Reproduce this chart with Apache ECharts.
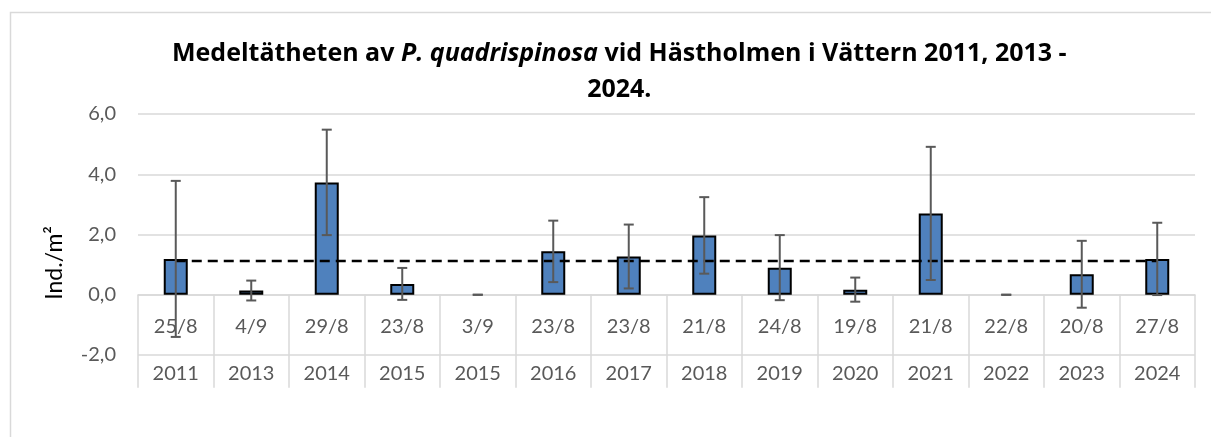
<!DOCTYPE html>
<html>
<head>
<meta charset="utf-8">
<script src="https://cdn.jsdelivr.net/npm/echarts@6/dist/echarts.min.js"></script>
<style>
  html, body { margin: 0; padding: 0; background: #fff; }
  #main { width: 1211px; height: 437px; }
</style>
</head>
<body>
<div id="main"></div>
<script>
// provtagningsdatum och år (två rader under x-axeln)
var dates = ['25/8', '4/9', '29/8', '23/8', '3/9', '23/8', '23/8', '21/8', '24/8', '19/8', '21/8', '22/8', '20/8', '27/8'];
var years = ['2011', '2013', '2014', '2015', '2015', '2016', '2017', '2018', '2019', '2020', '2021', '2022', '2023', '2024'];
// medeltäthet ind./m2 och felstaplar (+/-)
var density = [1.19, 0.14, 3.73, 0.36, 0, 1.44, 1.27, 1.97, 0.90, 0.17, 2.70, 0, 0.68, 1.19];
var errors = [2.59, 0.33, 1.75, 0.53, 0, 1.02, 1.06, 1.27, 1.08, 0.40, 2.21, 0, 1.11, 1.20];
// medelvärde för hela perioden (streckad linje)
var meanLine = [1.12, 1.12, 1.12, 1.12, 1.12, 1.12, 1.12, 1.12, 1.12, 1.12, 1.12, 1.12, 1.12, 1.12];
var yTicks = { min: -2, max: 6, step: 2 };

var FONT = 'Lato';
var GRID = '#d9d9d9';

var cats = dates.map(function (d, i) { return String(i); });

var barData = density.map(function (v) {
    // nollvärden ritas inte med ram
    return v === 0 ? { value: 0, itemStyle: { borderWidth: 0 } } : v;
});

var errData = density.map(function (v, i) {
    return [i, v - errors[i], v + errors[i]];
});

var myChart = echarts.init(document.getElementById('main'));
myChart.setOption({
    animation: false,
    backgroundColor: '#fff',
    title: {
        left: 167,
        top: 31,
        textAlign: 'left',
        text: '{b|Medeltätheten av }{bi|P. quadrispinosa}{b| vid Hästholmen i Vättern 2011, 2013 -}\n{c|2024.}',
        textStyle: {
            rich: {
                b: { fontFamily: 'Open Sans', fontWeight: 'bold', fontSize: 25, color: '#000', lineHeight: 36 },
                bi: { fontFamily: 'Open Sans', fontWeight: 'bold', fontStyle: 'italic', fontSize: 25, color: '#000', lineHeight: 36 },
                c: { fontFamily: 'Open Sans', fontWeight: 'bold', fontSize: 25, color: '#000', lineHeight: 36, align: 'center' }
            }
        }
    },
    graphic: [
        {
            type: 'rect',
            silent: true,
            shape: { x: 10.5, y: 12.5, width: 1300, height: 500 },
            style: { fill: 'none', stroke: GRID, lineWidth: 1.5 }
        },
        {
            type: 'text',
            left: 43,
            top: 226,
            rotation: Math.PI / 2,
            style: {
                text: 'Ind./m²',
                font: '23px Lato',
                fill: '#000'
            }
        }
    ],
    grid: {
        left: 138,
        right: 16,
        top: 114,
        bottom: 82,
        outerBoundsMode: 'none',
        containLabel: false
    },
    xAxis: {
        type: 'category',
        data: cats,
        boundaryGap: true,
        axisLine: { onZero: true, lineStyle: { color: GRID, width: 1.5 } },
        axisTick: { show: true, interval: 0, length: 93, lineStyle: { color: GRID, width: 1.5 } },
        axisLabel: {
            interval: 0,
            margin: -59,
            formatter: function (val, idx) {
                return '{d|' + dates[idx] + '}\n{y|' + years[idx] + '}';
            },
            rich: {
                d: { fontFamily: FONT, fontSize: 20, color: '#595959', lineHeight: 62 },
                y: { fontFamily: FONT, fontSize: 20, color: '#595959', lineHeight: 32 }
            }
        },
        splitLine: { show: false }
    },
    yAxis: {
        type: 'value',
        min: yTicks.min,
        max: yTicks.max,
        interval: yTicks.step,
        axisLine: { show: false },
        axisTick: { show: false },
        axisLabel: {
            margin: 22,
            fontFamily: FONT,
            fontSize: 20,
            color: '#595959',
            formatter: function (v) { return v.toFixed(1).replace('.', ','); }
        },
        splitLine: { lineStyle: { color: GRID, width: 1.5 } }
    },
    series: [
        {
            name: 'Medeltäthet',
            type: 'bar',
            barWidth: 24,
            z: 2,
            itemStyle: { color: '#4f81bd', borderColor: '#000', borderWidth: 2 },
            data: barData
        },
        {
            name: 'Medel',
            type: 'line',
            z: 3,
            symbol: 'none',
            lineStyle: { color: '#000', width: 2.5, type: [10, 6] },
            data: meanLine
        },
        {
            name: 'Fel',
            type: 'custom',
            z: 4,
            clip: false,
            encode: { x: 0, y: [1, 2] },
            renderItem: function (params, api) {
                var lo = api.coord([api.value(0), api.value(1)]);
                var hi = api.coord([api.value(0), api.value(2)]);
                var w = 5;
                var st = { stroke: '#595959', lineWidth: 2 };
                return {
                    type: 'group',
                    children: [
                        { type: 'line', shape: { x1: hi[0], y1: hi[1], x2: lo[0], y2: lo[1] }, style: st },
                        { type: 'line', shape: { x1: hi[0] - w, y1: hi[1], x2: hi[0] + w, y2: hi[1] }, style: st },
                        { type: 'line', shape: { x1: lo[0] - w, y1: lo[1], x2: lo[0] + w, y2: lo[1] }, style: st }
                    ]
                };
            },
            data: errData
        }
    ]
});
</script>
</body>
</html>
